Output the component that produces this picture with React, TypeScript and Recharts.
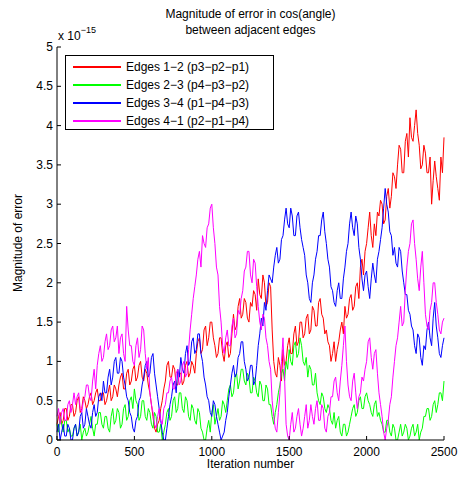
import { LineChart, Line, XAxis, YAxis } from "recharts";

// values in units of 1e-15, one sample every 10 iterations (0..2500)
const STEP = 10;

const edges12 = [
  0.2, 0.3, 0.35, 0.2, 0.25, 0.4, 0.4, 0.25, 0.3, 0.45,
  0.45, 0.3, 0.35, 0.5, 0.55, 0.35, 0.4, 0.55, 0.5, 0.4,
  0.45, 0.55, 0.6, 0.45, 0.5, 0.6, 0.65, 0.5, 0.5, 0.6,
  0.6, 0.45, 0.5, 0.6, 0.7, 0.5, 0.55, 0.7, 0.65, 0.55,
  0.7, 0.8, 0.85, 0.65, 0.65, 0.85, 0.9, 0.7, 0.75, 0.9,
  0.95, 0.75, 0.8, 0.95, 1.0, 0.8, 0.75, 0.9, 0.85, 0.7,
  0.6, 0.45, 0.3, 0.15, 0.1, 0.2, 0.25, 0.4, 0.5, 0.65,
  0.75, 0.95, 1.0, 0.8, 0.8, 0.95, 0.9, 0.7, 0.7, 0.85,
  0.85, 0.7, 0.75, 0.95, 1.0, 0.8, 0.85, 1.0, 0.95, 0.85,
  1.1, 1.25, 1.3, 1.1, 1.15, 1.4, 1.45, 1.2, 1.3, 1.5,
  1.5, 1.3, 1.2, 1.05, 1.1, 1.3, 1.3, 1.1, 1.0, 1.2,
  1.25, 1.05, 1.1, 1.35, 1.6, 1.4, 1.45, 1.7, 1.8, 1.55,
  1.6, 1.8, 1.75, 1.55, 1.5, 1.75, 1.7, 1.9, 1.85, 1.65,
  2.05, 1.85, 1.8, 2.1, 2.0, 1.7, 1.75, 2.0, 1.95, 1.4,
  1.0, 0.85, 0.8, 1.05, 0.95, 0.75, 1.15, 0.95, 1.0, 1.2,
  1.3, 1.1, 1.1, 1.35, 1.45, 1.2, 1.25, 1.5, 1.5, 1.3,
  1.35, 1.55, 1.6, 1.35, 1.4, 1.7, 1.65, 1.45, 1.45, 1.75,
  1.8, 1.6, 1.55, 1.35, 1.4, 1.25, 1.2, 1.0, 1.1, 1.25,
  1.0, 1.15, 1.25, 1.4, 1.5, 1.35, 1.7, 1.55, 1.6, 1.8,
  1.85, 1.65, 1.7, 1.95, 2.0, 1.8, 2.2, 2.3, 2.1, 2.4,
  2.5, 2.7, 2.9, 2.6, 2.45, 2.75, 2.6, 2.9, 2.85, 3.05,
  3.0, 2.75, 2.8, 3.1, 3.2, 2.95, 3.1, 3.4, 3.35, 3.2,
  3.5, 3.75, 3.7, 3.4, 3.4, 3.8, 3.9, 3.6, 4.1, 3.85,
  3.8, 4.0, 4.2, 3.9, 3.75, 3.45, 3.5, 3.75, 3.65, 3.4,
  3.4, 3.6, 3.0, 3.3, 3.55, 3.35, 3.2, 3.05, 3.6, 3.4,
  3.85,
];

const edges23 = [
  0.2, 0.1, 0.3, 0.2, 0.1, 0.25, 0.25, 0.1, 0.15, 0.05,
  0.05, 0.15, 0.2, 0.05, 0.1, 0.2, 0.0, 0.1, 0.15, 0.05,
  0.1, 0.2, 0.3, 0.15, 0.05, 0.2, 0.2, 0.35, 0.35, 0.2,
  0.15, 0.3, 0.3, 0.15, 0.1, 0.3, 0.4, 0.2, 0.25, 0.4,
  0.35, 0.15, 0.2, 0.4, 0.45, 0.25, 0.3, 0.5, 0.55, 0.4,
  0.65, 0.5, 0.45, 0.25, 0.3, 0.5, 0.5, 0.3, 0.25, 0.4,
  0.35, 0.2, 0.15, 0.35, 0.3, 0.1, 0.1, 0.2, 0.0, 0.1,
  0.2, 0.35, 0.4, 0.25, 0.3, 0.5, 0.55, 0.35, 0.4, 0.6,
  0.6, 0.4, 0.35, 0.55, 0.5, 0.3, 0.25, 0.45, 0.4, 0.25,
  0.2, 0.4, 0.35, 0.15, 0.1, 0.0, 0.0, 0.15, 0.25, 0.1,
  0.35, 0.45, 0.2, 0.3, 0.4, 0.25, 0.3, 0.5, 0.45, 0.35,
  0.5, 0.65, 0.7, 0.55, 0.6, 0.8, 0.85, 0.65, 0.75, 0.9,
  0.9, 0.75, 0.7, 0.85, 0.8, 0.6, 0.6, 0.8, 0.75, 0.6,
  0.55, 0.75, 0.7, 0.5, 0.5, 0.7, 0.65, 0.45, 0.45, 0.3,
  0.2, 0.35, 0.45, 0.6, 0.7, 0.85, 0.9, 0.75, 1.0, 0.9,
  1.15, 1.0, 0.95, 1.2, 1.25, 1.05, 1.1, 1.3, 1.2, 1.0,
  0.95, 1.05, 0.8, 0.95, 0.9, 0.7, 0.7, 0.85, 0.6, 0.5,
  0.45, 0.6, 0.55, 0.4, 0.35, 0.45, 0.4, 0.25, 0.2, 0.35,
  0.15, 0.25, 0.3, 0.1, 0.05, 0.2, 0.2, 0.05, 0.1, 0.2,
  0.3, 0.4, 0.45, 0.3, 0.35, 0.5, 0.55, 0.4, 0.4, 0.55,
  0.6, 0.5, 0.45, 0.35, 0.3, 0.45, 0.5, 0.3, 0.35, 0.25,
  0.2, 0.1, 0.1, 0.25, 0.25, 0.1, 0.05, 0.2, 0.15, 0.0,
  0.0, 0.1, 0.2, 0.05, 0.1, 0.2, 0.15, 0.0, 0.05, 0.15,
  0.2, 0.05, 0.1, 0.2, 0.0, 0.1, 0.15, 0.3, 0.3, 0.4,
  0.4, 0.25, 0.3, 0.45, 0.5, 0.35, 0.45, 0.6, 0.6, 0.5,
  0.75,
];

const edges34 = [
  0.1, 0.2, 0.0, 0.1, 0.2, 0.05, 0.05, 0.2, 0.15, 0.0,
  0.0, 0.15, 0.2, 0.05, 0.1, 0.3, 0.35, 0.15, 0.2, 0.4,
  0.3, 0.2, 0.15, 0.35, 0.45, 0.3, 0.35, 0.55, 0.6, 0.5,
  0.75, 0.6, 0.6, 0.8, 0.9, 0.7, 0.8, 1.0, 1.05, 0.85,
  0.85, 1.05, 1.0, 0.8, 0.7, 0.55, 0.5, 0.35, 0.3, 0.15,
  0.1, 0.25, 0.3, 0.5, 0.55, 0.7, 0.8, 0.95, 1.0, 0.8,
  0.85, 1.05, 1.1, 0.85, 0.7, 0.55, 0.4, 0.25, 0.1, 0.0,
  0.0, 0.15, 0.3, 0.45, 0.55, 0.7, 0.75, 0.6, 0.9, 0.8,
  1.05, 0.9, 0.85, 1.1, 1.2, 0.95, 1.0, 1.25, 1.3, 1.1,
  1.15, 1.35, 1.35, 1.1, 1.0, 0.8, 0.7, 0.55, 0.5, 0.35,
  0.3, 0.5, 0.45, 0.3, 0.2, 0.1, 0.0, 0.05, 0.1, 0.25,
  0.35, 0.55, 0.7, 0.85, 0.95, 0.8, 0.85, 1.05, 1.1, 1.25,
  1.25, 1.0, 0.9, 0.75, 0.8, 0.95, 0.95, 0.7, 0.75, 0.95,
  1.2, 1.35, 1.55, 1.45, 1.75, 1.65, 1.9, 2.1, 2.05, 2.0,
  2.2, 2.35, 2.45, 2.25, 2.3, 2.55, 2.6, 2.8, 2.95, 2.75,
  2.7, 2.95, 2.85, 2.6, 2.6, 2.85, 2.9, 2.7, 2.55, 2.45,
  2.35, 2.1, 2.0, 1.8, 1.75, 2.0, 2.1, 2.3, 2.4, 2.6,
  2.6, 2.8, 2.9, 2.65, 2.5, 2.3, 2.2, 1.95, 1.9, 1.75,
  1.7, 1.9, 2.0, 1.8, 1.8, 2.05, 2.2, 2.4, 2.5, 2.75,
  2.9, 2.7, 2.6, 2.85, 2.75, 2.45, 2.3, 2.05, 1.9, 2.1,
  2.15, 1.95, 1.8, 2.05, 2.25, 2.1, 2.0, 2.3, 2.4, 2.55,
  2.7, 2.95, 3.2, 3.0, 2.9, 2.65, 2.6, 2.35, 2.45, 2.25,
  2.2, 2.45, 2.4, 2.15, 2.0, 1.85, 1.85, 1.65, 1.6, 1.45,
  1.4, 1.2, 1.1, 1.35, 1.3, 1.05, 0.95, 1.2, 1.15, 1.4,
  1.5, 1.3, 1.2, 1.55, 1.75, 1.45, 1.3, 1.1, 1.05, 1.2,
  1.3,
];

const edges41 = [
  0.3, 0.4, 0.2, 0.35, 0.4, 0.25, 0.25, 0.45, 0.5, 0.35,
  0.45, 0.6, 0.45, 0.55, 0.6, 0.4, 0.35, 0.5, 0.55, 0.7,
  0.7, 0.55, 0.5, 0.75, 0.9, 0.65, 0.95, 1.1, 1.2, 1.0,
  1.05, 1.25, 1.35, 1.15, 1.2, 1.4, 1.45, 1.25, 1.3, 1.45,
  1.1, 1.3, 1.35, 1.1, 1.0, 1.7, 1.4, 1.2, 1.2, 1.0,
  0.95, 1.2, 1.3, 1.05, 1.15, 1.45, 1.4, 1.1, 0.9, 1.05,
  0.6, 0.45, 0.35, 0.2, 0.15, 0.3, 0.4, 0.25, 0.2, 0.4,
  0.45, 0.6, 0.6, 0.75, 0.8, 0.65, 0.65, 0.85, 0.9, 0.7,
  0.75, 0.95, 1.0, 0.8, 0.85, 1.15, 1.4, 1.6, 1.8, 1.95,
  2.1, 2.3, 2.4, 2.2, 2.6, 2.5, 2.45, 2.7, 2.75, 2.95,
  3.0, 2.7, 2.5, 2.2, 2.1, 1.7, 1.5, 1.2, 1.1, 1.3,
  1.4, 1.2, 1.2, 1.45, 1.55, 1.3, 1.35, 1.65, 1.6, 1.8,
  1.9, 2.15, 2.2, 2.4, 2.4, 2.1, 2.0, 2.3, 2.25, 1.95,
  1.7, 1.5, 1.4, 1.6, 1.55, 1.3, 1.2, 1.0, 0.9, 0.5,
  0.3, 0.15, 0.1, 0.35, 0.6, 1.0, 1.3, 0.8, 0.2, 0.05,
  0.0, 0.2, 0.35, 0.1, 0.15, 0.3, 0.4, 0.2, 0.05, 0.15,
  0.3, 0.45, 0.15, 0.25, 0.45, 0.3, 0.2, 0.4, 0.5, 0.25,
  0.25, 0.45, 0.4, 0.15, 0.1, 0.3, 0.35, 0.55, 0.55, 0.75,
  0.8, 0.6, 0.5, 0.75, 0.95, 1.2, 1.45, 1.0, 0.7, 0.55,
  0.5, 0.75, 0.85, 0.6, 0.4, 0.55, 0.6, 0.8, 0.75, 0.9,
  1.0, 1.25, 1.3, 1.05, 0.9, 1.1, 1.15, 0.85, 0.6, 0.45,
  0.3, 0.1, 0.0, 0.15, 0.25, 0.45, 0.55, 0.8, 1.0, 1.2,
  1.3, 1.5, 1.7, 1.45, 1.5, 1.9, 2.2, 2.4, 2.5, 2.75,
  2.8, 2.5, 2.3, 2.05, 1.9, 2.2, 2.4, 2.0, 1.6, 1.45,
  1.4, 1.65, 1.75, 2.0, 2.0, 1.75, 1.6, 1.4, 1.35, 1.5,
  1.55,
];

const seriesKeys = ["e12", "e23", "e34", "e41"];
const seriesNames = [
  "Edges 1\u22122 (p3\u2212p2\u2212p1)",
  "Edges 2\u22123 (p4\u2212p3\u2212p2)",
  "Edges 3\u22124 (p1\u2212p4\u2212p3)",
  "Edges 4\u22121 (p2\u2212p1\u2212p4)",
];
const seriesColors = ["#ff0000", "#00ff00", "#0000ff", "#ff00ff"];

const xTicks = [0, 500, 1000, 1500, 2000, 2500];
const yTicks = [0, 0.5, 1, 1.5, 2, 2.5, 3, 3.5, 4, 4.5, 5];

const data = edges12.map((v, i) => ({
  iter: i * STEP,
  e12: v,
  e23: edges23[i],
  e34: edges34[i],
  e41: edges41[i],
}));

const FONT = "'Liberation Sans', Arial, sans-serif";
const TICK = 4;

const BottomTick = (props: any) => {
  const { x, y, payload } = props;
  return (
    <g>
      <line x1={x} y1={y} x2={x} y2={y - TICK} stroke="#000" />
      <text x={x} y={y + 16} textAnchor="middle" fontSize={12} fontFamily={FONT} fill="#000">
        {payload.value}
      </text>
    </g>
  );
};

const TopTick = (props: any) => {
  const { x, y } = props;
  return <line x1={x} y1={y} x2={x} y2={y + TICK} stroke="#000" />;
};

const LeftTick = (props: any) => {
  const { x, y, payload } = props;
  return (
    <g>
      <line x1={x} y1={y} x2={x + TICK} y2={y} stroke="#000" />
      <text x={x - 4} y={y + 4} textAnchor="end" fontSize={12} fontFamily={FONT} fill="#000">
        {payload.value}
      </text>
    </g>
  );
};

const RightTick = (props: any) => {
  const { x, y } = props;
  return <line x1={x} y1={y} x2={x - TICK} y2={y} stroke="#000" />;
};

export default function App() {
  return (
    <div style={{ position: "absolute", left: 0, top: 0, width: 461, height: 481, background: "#fff", fontFamily: FONT }}>
      <LineChart width={461} height={481} data={data} margin={{ top: 47, right: 17, bottom: 0, left: 0 }}>
        <XAxis
          dataKey="iter"
          type="number"
          domain={[0, 2500]}
          ticks={xTicks}
          height={41}
          tickSize={0}
          tickMargin={0}
          tick={<BottomTick />}
          axisLine={{ stroke: "#000" }}
          tickLine={false}
        />
        <XAxis
          xAxisId="top"
          orientation="top"
          dataKey="iter"
          type="number"
          domain={[0, 2500]}
          ticks={xTicks}
          height={0}
          tickSize={0}
          tickMargin={0}
          tick={<TopTick />}
          axisLine={{ stroke: "#000" }}
          tickLine={false}
        />
        <YAxis
          type="number"
          domain={[0, 5]}
          ticks={yTicks}
          width={57}
          tickSize={0}
          tickMargin={0}
          tick={<LeftTick />}
          axisLine={{ stroke: "#000" }}
          tickLine={false}
          allowDataOverflow
        />
        <YAxis
          yAxisId="right"
          orientation="right"
          type="number"
          domain={[0, 5]}
          ticks={yTicks}
          width={0}
          tickSize={0}
          tickMargin={0}
          tick={<RightTick />}
          axisLine={{ stroke: "#000" }}
          tickLine={false}
        />
        {seriesKeys.map((k, i) => (
          <Line
            key={k}
            type="linear"
            dataKey={k}
            name={seriesNames[i]}
            stroke={seriesColors[i]}
            strokeWidth={1}
            dot={false}
            isAnimationActive={false}
          />
        ))}
      </LineChart>

      {/* legend box, drawn over the plot like MATLAB does */}
      <div
        style={{
          position: "absolute",
          left: 65,
          top: 55,
          width: 209,
          height: 75,
          boxSizing: "border-box",
          border: "1px solid #000",
          background: "#fff",
          fontSize: 12,
          lineHeight: "18px",
          paddingTop: 2,
        }}
      >
        {seriesNames.map((n, i) => (
          <div key={n} style={{ display: "flex", alignItems: "center", whiteSpace: "nowrap", height: 18 }}>
            <div style={{ width: 48, height: 2, background: seriesColors[i], marginLeft: 7, marginRight: 5 }} />
            <span>{n}</span>
          </div>
        ))}
      </div>

      <div style={{ position: "absolute", left: 0, width: 501, top: 6, textAlign: "center", fontSize: 12, lineHeight: "16px" }}>
        Magnitude of error in cos(angle)
        <br />
        between adjacent edges
      </div>
      <div style={{ position: "absolute", left: 58, top: 27, fontSize: 12 }}>
        x 10<sup style={{ fontSize: 9, position: "relative", top: -2 }}>{"\u221215"}</sup>
      </div>
      <div style={{ position: "absolute", left: 57, width: 387, top: 457, textAlign: "center", fontSize: 12 }}>
        Iteration number
      </div>
      <div
        style={{
          position: "absolute",
          left: 18,
          top: 243,
          fontSize: 12,
          whiteSpace: "nowrap",
          transform: "translate(-50%, -50%) rotate(-90deg)",
        }}
      >
        Magnitude of error
      </div>
    </div>
  );
}
